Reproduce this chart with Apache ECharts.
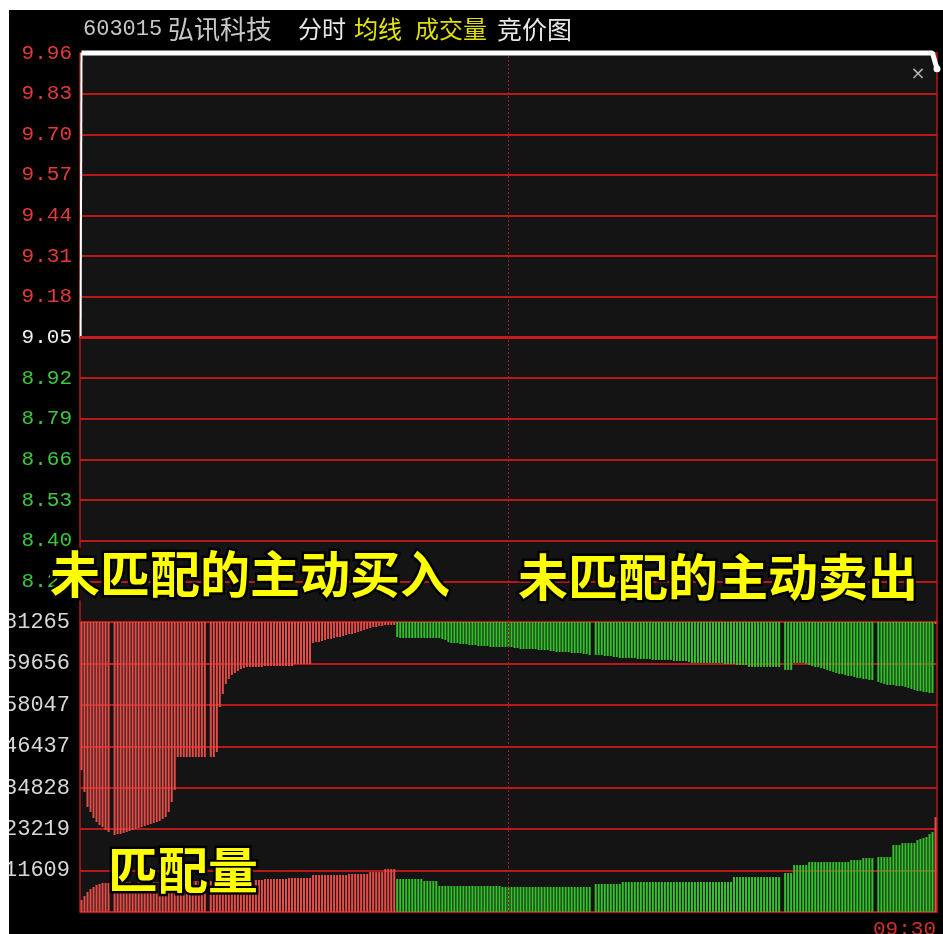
<!DOCTYPE html>
<html>
<head>
<meta charset="utf-8">
<script src="https://cdn.jsdelivr.net/npm/echarts@6/dist/echarts.min.js"></script>
<style>
html,body{margin:0;padding:0;background:#ffffff;}
#c{width:943px;height:934px;}
</style>
</head>
<body>
<div id="c"></div>
<script>
// ---- data ----
const prevClose = 9.05;
const priceTickLabels = ['8.14','8.27','8.40','8.53','8.66','8.79','8.92','9.05','9.18','9.31','9.44','9.57','9.70','9.83','9.96'];
const volTickLabels = ['0','11609','23219','34828','46437','58047','69656','81265'];
const volMax = 81265;

// price path: slot position / price
const priceX = [0.2, 0.5, 283.5, 285];
const priceY = [9.05, 9.96, 9.96, 9.91];

// unmatched volume per slot: positive = unmatched active buy (red), negative = unmatched active sell (green)
const unmatched = [
  41470, 47630, 51840, 53240, 54920, 56040, 56880, 57440, 58280, 58840,
  null, 59680, 59400, 59400, 59120, 58840, 58560, 58280, 58000, 57720,
  57440, 57160, 56880, 56600, 56320, 56040, 55760, 55200, 54640, 53240,
  50440, 47070, 37830, 37830, 37830, 37830, 37830, 37830, 37830, 37830,
  37830, 37830, null, 37830, 37830, 36430, 23820, 20170, 17370, 15970,
  14850, 14290, 13730, 13170, 12890, 12610, 12610, 12610, 12610, 12610,
  12610, 12330, 12330, 12330, 12330, 12330, 12330, 12330, 12330, 12330,
  12330, 11770, 11770, 11770, 11770, 11770, 11770, 5880, 5600, 5600,
  5320, 5040, 4760, 4760, 4480, 4200, 4200, 3920, 3640, 3360,
  3360, 3080, 2800, 2520, 2240, 1960, 1680, 1400, 1400, 1120,
  1120, 840, 840, 840, 840, -4200, -4480, -4480, -4480, -4480,
  -4480, -4480, -4480, -4480, -4480, -4480, -4480, -4480, -4480, -4480,
  -4760, -5040, -5600, -5880, -5880, -5880, -6160, -6160, -6160, -6440,
  -6440, -6440, -6720, -6720, -6720, -6720, -7000, -7000, -7000, -7000,
  -7000, -7000, -7000, -7000, -7280, -7280, -7560, -7560, -7560, -7560,
  -7560, -7560, -7840, -7840, -7840, -7840, -8120, -8120, -8400, -8400,
  -8400, -8400, -8400, -8680, -8680, -8680, -8680, -8960, -8960, -9240,
  null, -9240, -9240, -9240, -9520, -9520, -9520, -9800, -9800, -10080,
  -10080, -10080, -10080, -10080, -10080, -10360, -10360, -10360, -10360, -10360,
  -10640, -10640, -10640, -10640, -10640, -10640, -10640, -10920, -10920, -10920,
  -10920, -10920, -11200, -11480, -11480, -11480, -11480, -11480, -11480, -11480,
  -11480, -11480, -11480, -11480, -11760, -11760, -11760, -11760, -12040, -12040,
  -12040, -12040, -12600, -12600, -12600, -12600, -12600, -12600, -12600, -12600,
  -12600, -12600, -12600, null, -13440, -13440, -13440, -11480, -11480, -11480,
  -11480, -11760, -12040, -12320, -12600, -12600, -12880, -13160, -13440, -13720,
  -14000, -14280, -14560, -14560, -14840, -15120, -15120, -15400, -15680, -15680,
  -15960, -15960, -16240, -16240, null, -16800, -17080, -17360, -17640, -17640,
  -17640, -17920, -17920, -17920, -18200, -18480, -18760, -19040, -19320, -19320,
  -19600, -19600, -19880, -19880, 560
];

// matched volume per slot
const matched = [
  3360, 4480, 5600, 6440, 7000, 7560, 7840, 8120, 8120, 8120,
  null, 8120, 8120, 8120, 8400, 8400, 8400, 8120, 8120, 8400,
  8400, 8400, 8400, 8400, 8400, 8400, 8400, 8400, 8400, 8400,
  8400, 8680, 8680, 8680, 8680, 8680, 8680, 8680, 8680, 8680,
  8680, 8680, null, 8680, 8680, 8680, 8680, 8680, 8680, 8680,
  8680, 8680, 8960, 8960, 8960, 8960, 8960, 8960, 8960, 8960,
  8960, 9240, 9240, 9240, 9240, 9240, 9240, 9240, 9240, 9520,
  9520, 9520, 9520, 9520, 9520, 9520, 9520, 10360, 10360, 10360,
  10360, 10360, 10360, 10360, 10360, 10360, 10360, 10360, 10360, 10640,
  10640, 10640, 10640, 10640, 10640, 10640, 11200, 11200, 11200, 11200,
  11200, 12040, 12040, 12040, 12040, 9240, 9240, 9240, 9240, 9240,
  9240, 9240, 9240, 9240, 8680, 8680, 8680, 8680, 8680, 7280,
  7280, 7280, 7280, 7280, 7280, 7280, 7280, 7280, 7280, 7280,
  7280, 7280, 7280, 7280, 7280, 7280, 7280, 7280, 7280, 7280,
  7000, 7000, 7000, 7000, 7000, 7000, 7000, 7000, 7000, 7000,
  7000, 7000, 7000, 7000, 7000, 7000, 7000, 7000, 7000, 7000,
  7000, 7000, 7000, 7000, 7000, 7000, 7000, 7000, 7000, 7000,
  null, 7840, 7840, 7840, 7840, 7840, 7840, 7840, 7840, 7840,
  8400, 8400, 8400, 8400, 8400, 8400, 8400, 8400, 8400, 8400,
  8400, 8400, 8400, 8400, 8400, 8400, 8400, 8400, 8400, 8400,
  8400, 8400, 8400, 8400, 8400, 8400, 8400, 8400, 8400, 8400,
  8400, 8400, 8400, 8400, 8400, 8400, 8400, 9800, 9800, 9800,
  9800, 9800, 9800, 9800, 9800, 9800, 9800, 9800, 9800, 9800,
  9800, 9800, 9800, null, 10920, 10920, 10920, 13160, 13160, 13160,
  13160, 13160, 14000, 14000, 14000, 14000, 14000, 14000, 14000, 14000,
  14000, 14000, 14000, 14000, 14000, 14000, 14560, 14560, 14560, 14560,
  15120, 15120, 15120, 15120, null, 15400, 15400, 15400, 15400, 15400,
  18760, 18760, 18760, 19320, 19320, 19320, 19320, 19320, 20160, 20440,
  20720, 21000, 21840, 22400, 26600
];

// ---- styling ----
const RED = '#e44c48';
const GREEN = '#34c22c';
const GRID_RED = '#b81818';
const LABEL_FONT = '"Liberation Mono", "DejaVu Sans Mono", monospace';
const CJK = '"Noto Sans CJK SC", sans-serif';

const slots = matched.length;
const categories = matched.map((_, i) => i);
const volStep = volMax / 7;
const toCents = p => Math.round((p - prevClose) * 100);

const buyData = unmatched.map(v => (v !== null && v > 0) ? v / volStep : null);
const sellData = unmatched.map(v => (v !== null && v < 0) ? -v / volStep : null);
const matchedData = matched.map((v, i) => v === null ? null : {
  value: v / volStep,
  itemStyle: { color: (unmatched[i] !== null && unmatched[i] > 0) ? RED : GREEN }
});
const pricePts = priceX.map((x, i) => [x, toCents(priceY[i])]);
const openLeg = pricePts.slice(0, 2);
const mainLeg = pricePts.slice(1).map((p, i, arr) => i === arr.length - 1
  ? { value: p, symbol: 'circle', symbolSize: 7 } : { value: p, symbol: 'none' });

const dashStyle = { color: '#a41c1c', width: 1, type: [2, 2] };

const chart = echarts.init(document.getElementById('c'));
chart.setOption({
  animation: false,
  backgroundColor: '#000000',
  grid: [
    { left: 80, top: 53, width: 857, height: 569, show: true, backgroundColor: '#141414', borderColor: GRID_RED, borderWidth: 1.5 },
    { left: 80, top: 622, width: 857, height: 290, show: true, backgroundColor: '#141414', borderColor: GRID_RED, borderWidth: 1.5 }
  ],
  xAxis: [
    { type: 'value', gridIndex: 0, min: 0, max: slots, show: false },
    { type: 'category', gridIndex: 1, data: categories, boundaryGap: true, show: false }
  ],
  yAxis: [
    {
      type: 'value', gridIndex: 0, min: -91, max: 91, interval: 13,
      axisLine: { show: false }, axisTick: { show: false },
      splitLine: { lineStyle: { color: GRID_RED, width: 2 } },
      axisLabel: {
        margin: 8, fontFamily: LABEL_FONT, fontSize: 21,
        showMinLabel: true, showMaxLabel: true,
        formatter: v => { const k = Math.round((v + 91) / 13); return k === 0 ? '' : priceTickLabels[k]; },
        color: v => v > 0 ? '#e23a3a' : (v < 0 ? '#3cc83c' : '#f0f0f0')
      }
    },
    {
      type: 'value', gridIndex: 1, min: 0, max: 7, interval: 1,
      axisLine: { show: false }, axisTick: { show: false },
      splitLine: { lineStyle: { color: GRID_RED, width: 2 } },
      axisLabel: {
        margin: 10, fontFamily: LABEL_FONT, fontSize: 22, color: '#d8d8d8',
        showMinLabel: true, showMaxLabel: true,
        formatter: v => { const k = Math.round(v); return k === 0 ? '' : volTickLabels[k]; }
      }
    },
    { type: 'value', gridIndex: 1, min: 0, max: 7, inverse: true, show: false }
  ],
  series: [
    {
      name: '开盘', type: 'line', xAxisIndex: 0, yAxisIndex: 0, data: openLeg,
      symbol: 'none', clip: false, lineStyle: { color: '#ffffff', width: 2 }, z: 4
    },
    {
      name: '价格', type: 'line', xAxisIndex: 0, yAxisIndex: 0, data: mainLeg,
      clip: false, itemStyle: { color: '#ffffff' },
      lineStyle: { color: '#ffffff', width: 5 }, z: 5,
      markLine: {
        silent: true, symbol: 'none', label: { show: false },
        data: [
          { yAxis: 0, lineStyle: { color: '#c81c1c', width: 3, type: 'solid' } },
          { xAxis: slots / 2, lineStyle: dashStyle }
        ]
      }
    },
    {
      name: '匹配量', type: 'bar', xAxisIndex: 1, yAxisIndex: 1, data: matchedData,
      barWidth: 2, barGap: '-100%',
      markLine: {
        silent: true, symbol: 'none', label: { show: false },
        data: [{ xAxis: Math.floor(slots / 2), lineStyle: dashStyle }]
      }
    },
    {
      name: '未匹配的主动买入', type: 'bar', xAxisIndex: 1, yAxisIndex: 2, data: buyData,
      barWidth: 2, barGap: '-100%', itemStyle: { color: RED }
    },
    {
      name: '未匹配的主动卖出', type: 'bar', xAxisIndex: 1, yAxisIndex: 2, data: sellData,
      barWidth: 2, barGap: '-100%', itemStyle: { color: GREEN }
    }
  ],
  graphic: [
    { type: 'text', x: 83, y: 29, z: 50, style: { text: '603015', fill: '#c8c8c8', font: '22px ' + LABEL_FONT, textVerticalAlign: 'middle', verticalAlign: 'middle' } },
    { type: 'text', x: 168, y: 29, z: 50, style: { text: '弘讯科技', fill: '#c8c8c8', font: '26px ' + CJK, textVerticalAlign: 'middle', verticalAlign: 'middle' } },
    { type: 'text', x: 298, y: 29, z: 50, style: { text: '分时', fill: '#e8e8e8', font: '24px ' + CJK, textVerticalAlign: 'middle', verticalAlign: 'middle' } },
    { type: 'text', x: 354, y: 29, z: 50, style: { text: '均线', fill: '#e6e600', font: '24px ' + CJK, textVerticalAlign: 'middle', verticalAlign: 'middle' } },
    { type: 'text', x: 415, y: 29, z: 50, style: { text: '成交量', fill: '#dede00', font: '24px ' + CJK, textVerticalAlign: 'middle', verticalAlign: 'middle' } },
    { type: 'text', x: 497, y: 29, z: 50, style: { text: '竞价图', fill: '#e8e8e8', font: '25px ' + CJK, textVerticalAlign: 'middle', verticalAlign: 'middle' } },
    { type: 'text', x: 918, y: 74, z: 50, style: { text: '×', fill: '#b4b4b4', font: '18px "DejaVu Sans"', textAlign: 'center', align: 'center', textVerticalAlign: 'middle', verticalAlign: 'middle' } },
    { type: 'text', x: 873, y: 919, z: 50, style: { text: '09:30', fill: '#d03030', font: '21px ' + LABEL_FONT, textVerticalAlign: 'top', verticalAlign: 'top' } },
    { type: 'text', x: 50, y: 574, z: 60, style: { text: '未匹配的主动买入', fill: '#ffff00', stroke: '#000000', lineWidth: 5, strokeFirst: true, font: 'bold 50px ' + CJK, textVerticalAlign: 'middle', verticalAlign: 'middle' } },
    { type: 'text', x: 518, y: 577, z: 60, style: { text: '未匹配的主动卖出', fill: '#ffff00', stroke: '#000000', lineWidth: 5, strokeFirst: true, font: 'bold 50px ' + CJK, textVerticalAlign: 'middle', verticalAlign: 'middle' } },
    { type: 'text', x: 108, y: 870, z: 60, style: { text: '匹配量', fill: '#ffff00', stroke: '#000000', lineWidth: 5, strokeFirst: true, font: 'bold 50px ' + CJK, textVerticalAlign: 'middle', verticalAlign: 'middle' } },
    { type: 'rect', z: 100, shape: { x: 0, y: 0, width: 943, height: 10 }, style: { fill: '#ffffff' } },
    { type: 'rect', z: 100, shape: { x: 0, y: 0, width: 9, height: 934 }, style: { fill: '#ffffff' } }
  ]
});
</script>
</body>
</html>
